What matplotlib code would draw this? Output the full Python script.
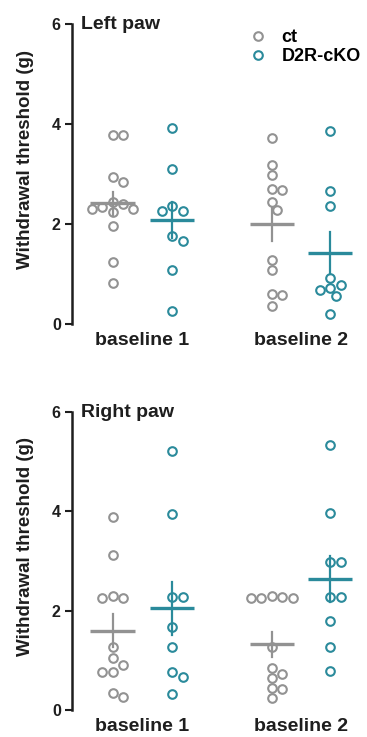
import numpy as np
import matplotlib
matplotlib.use("Agg")
import matplotlib.pyplot as plt
from matplotlib.lines import Line2D

plt.rcParams['font.family'] = ['Liberation Sans', 'DejaVu Sans']
plt.rcParams['font.weight'] = 'bold'

conditions = ['baseline 1', 'baseline 2']
groups = ['ct', 'D2R-cKO']
colors = {'ct': '#929292', 'D2R-cKO': '#2a8a9b'}

# left paw withdrawal thresholds (g)
left_ct_b1 = [3.78, 3.78, 2.95, 2.85, 2.45, 2.40, 2.35, 2.30, 2.30, 2.25, 1.96, 1.24, 0.82]
left_ko_b1 = [3.92, 3.10, 2.36, 2.27, 2.27, 1.75, 1.65, 1.08, 0.25]
left_ct_b2 = [3.73, 3.18, 2.98, 2.70, 2.68, 2.45, 2.28, 1.28, 1.08, 0.60, 0.58, 0.35]
left_ko_b2 = [3.87, 2.67, 2.36, 0.92, 0.78, 0.72, 0.68, 0.55, 0.20]

# right paw withdrawal thresholds (g)
right_ct_b1 = [3.89, 3.12, 2.30, 2.25, 2.25, 1.27, 1.05, 0.90, 0.77, 0.77, 0.34, 0.27]
right_ko_b1 = [5.22, 3.94, 2.27, 2.27, 1.67, 1.27, 0.77, 0.67, 0.32]
right_ct_b2 = [2.30, 2.27, 2.25, 2.25, 2.25, 1.27, 0.85, 0.72, 0.65, 0.45, 0.42, 0.24]
right_ko_b2 = [5.33, 3.96, 2.98, 2.98, 2.28, 2.28, 1.80, 1.27, 0.79]

panels = [
    ('Left paw', [[left_ct_b1, left_ko_b1], [left_ct_b2, left_ko_b2]]),
    ('Right paw', [[right_ct_b1, right_ko_b1], [right_ct_b2, right_ko_b2]]),
]

positions = [[0.0, 1.0], [2.67, 3.65]]
xpx, ypx = 60.0, 50.0   # pixels per data unit
diam = 9.5              # marker spacing in pixels
ink = '#1e1e1e'


def swarm(vals):
    # simple beeswarm: place each point at the nearest free offset
    placed = []
    offs = np.zeros(len(vals))
    order = np.argsort(vals)[::-1]
    step = diam / xpx
    for i in order:
        y = vals[i] * ypx
        for k in [0, 1, -1, 2, -2, 3, -3, 4, -4]:
            x = k * step * 0.55
            ok = True
            for (px, py) in placed:
                if np.hypot((x - px) * xpx, y - py) < diam:
                    ok = False
                    break
            if ok:
                break
        placed.append((x, y))
        offs[i] = x
    return offs


fig = plt.figure(figsize=(3.67, 7.37), dpi=100)
rects = [[0.196, 0.5604, 0.80, 0.407], [0.196, 0.0366, 0.80, 0.4043]]

for (title, data), rect in zip(panels, rects):
    ax = fig.add_axes(rect)
    for c, cond in enumerate(conditions):
        for g, grp in enumerate(groups):
            vals = np.array(data[c][g])
            x0 = positions[c][g]
            xs = x0 + swarm(vals)
            ax.plot(xs, vals, 'o', ms=6.2, mfc='none', mec=colors[grp], mew=1.5,
                    clip_on=False)
            m = vals.mean()
            sem = vals.std(ddof=1) / np.sqrt(len(vals))
            ax.plot([x0 - 0.37, x0 + 0.37], [m, m], color=colors[grp], lw=2.4,
                    solid_capstyle='butt')
            ax.plot([x0, x0], [m - sem, m + sem], color=colors[grp], lw=1.6)
        ax.text(np.mean(positions[c]), -0.16, cond, ha='center', va='top',
                fontsize=14, fontweight='bold', color=ink)

    ax.set_xlim(-0.68, 4.24)
    ax.set_ylim(0, 6)
    for s in ['top', 'right', 'bottom']:
        ax.spines[s].set_visible(False)
    ax.spines['left'].set_linewidth(1.8)
    ax.spines['left'].set_color(ink)
    ax.set_xticks([])
    ax.set_yticks([0, 2, 4, 6])
    ax.tick_params(axis='y', length=5, width=1.5, labelsize=11.5, pad=3,
                   colors=ink)
    for lab in ax.get_yticklabels():
        lab.set_fontweight('bold')
    ax.set_ylabel('Withdrawal threshold (g)', fontsize=13.5, fontweight='bold',
                  color=ink)
    ax.yaxis.set_label_coords(-0.13, 0.55)
    ax.text(-0.52, 6.0, title, ha='left', va='center', fontsize=14,
            fontweight='bold', color=ink)

    if title == 'Left paw':
        handles = [Line2D([], [], marker='o', ls='none', ms=6.2, mfc='none',
                          mec=colors[g], mew=1.5) for g in groups]
        ax.legend(handles, groups, loc='upper right', bbox_to_anchor=(1.02, 1.02),
                  frameon=False, handletextpad=0.7, borderaxespad=0.2,
                  labelspacing=0.12, handlelength=1.2,
                  prop={'weight': 'bold', 'size': 13})

fig.savefig('out.png', dpi=100)
